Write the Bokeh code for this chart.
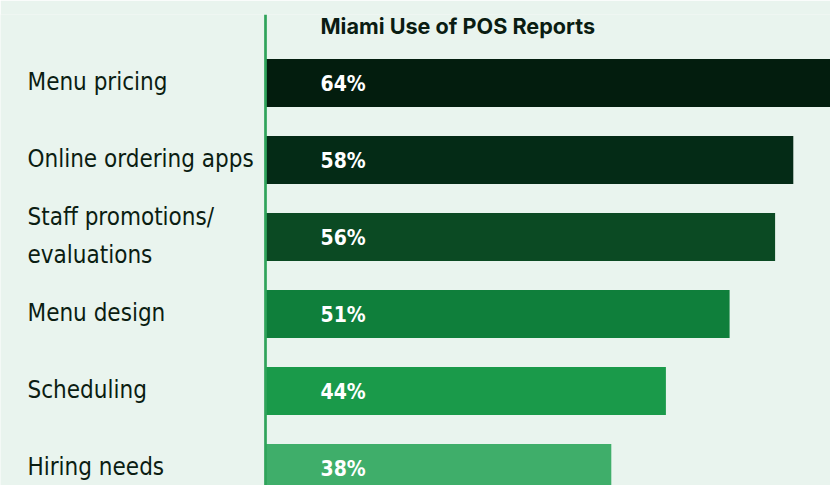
from bokeh.plotting import figure
from bokeh.models import ColumnDataSource, Range1d, Span
from bokeh.core.properties import value
from bokeh.embed import file_html
from bokeh.resources import INLINE

title = "Miami Use of POS Reports"
categories = ["Menu pricing", "Online ordering apps", "Staff promotions/\nevaluations",
              "Menu design", "Scheduling", "Hiring needs"]
values = [64, 58, 56, 51, 44, 38]
colors = ["#031d0e", "#042b16", "#0b4a23", "#0f7f3b", "#1a9a4a", "#3fae6a"]

BG = "#e9f4ee"
W, H = 830, 485
TOP_BORDER = 14
PX_PER_PCT = 9.1
AXIS_X = 265
ROW = 77.0
FIRST_CENTER = 68.5

x_start = -AXIS_X / PX_PER_PCT
x_end = (W - AXIS_X) / PX_PER_PCT
frame_h = H - TOP_BORDER
y_top = -FIRST_CENTER / ROW
y_bottom = y_top + frame_h / ROW

idx = list(range(len(categories)))
src = ColumnDataSource(dict(y=idx, v=values, c=colors, cat=categories,
                            lab=[f"{v}%" for v in values],
                            x0=[x_start] * len(idx), zero=[0] * len(idx)))

p = figure(width=W, height=H, output_backend="svg", toolbar_location=None,
           x_range=Range1d(x_start, x_end), y_range=Range1d(y_bottom, y_top),
           min_border_left=0, min_border_right=0, min_border_bottom=0,
           min_border_top=TOP_BORDER)
p.background_fill_color = BG
p.border_fill_color = BG
p.outline_line_color = None
p.axis.visible = False
p.grid.visible = False

p.hbar(y="y", left=0, right="v", height=0.625, fill_color="c", line_color=None, source=src)

p.add_layout(Span(location=0, dimension="height", line_color="#2fa35a", line_width=2.7))

COND = "'DejaVu Sans Condensed', 'Liberation Sans Narrow', Roboto"
p.text(x="x0", y="y", text="cat", source=src, x_offset=27, y_offset=-1,
       text_font=value(COND), text_font_size="24px",
       text_color="#0b1d12", text_baseline="middle", text_align="left",
       text_line_height=1.36)

p.text(x="zero", y="y", text="lab", source=src, x_offset=55, y_offset=1,
       text_font=value(COND), text_font_size="21px",
       text_font_style="bold", text_color="#ffffff", text_baseline="middle",
       text_align="left")

p.text(x=[0], y=[y_top], text=[title], x_offset=55, y_offset=11,
       text_font=value("Inter"), text_font_size="21.6px", text_font_style="bold",
       text_color="#0a1c12", text_baseline="middle", text_align="left")

open("out.html", "w").write(file_html(p, INLINE))
